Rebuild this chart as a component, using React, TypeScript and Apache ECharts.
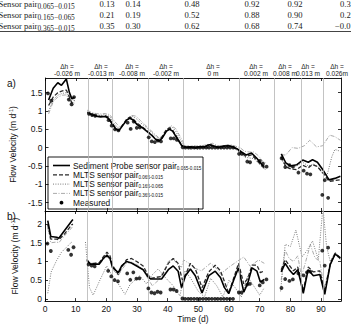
import React, { useEffect, useRef } from 'react';
import * as echarts from 'echarts';

const W = 351;
const H = 324;
const SANS = '"Liberation Sans", Arial, Helvetica, sans-serif';
const SERIF = '"Liberation Serif", "Times New Roman", serif';

// ---------- table excerpt (correlation coefficients) ----------
const tableSubs = ['0.065\u22120.015', '0.165\u22120.065', '0.365\u22120.015'];
const tableRow1 = ['0.13', '0.14', '0.48', '0.92', '0.92', '0.3'];
const tableRow2 = ['0.21', '0.19', '0.52', '0.88', '0.90', '0.2'];
const tableRow3 = ['0.35', '0.30', '0.62', '0.68', '0.74', '\u22120.0'];

// ---------- head-difference periods ----------
const periodBounds = [13.8, 21.9, 33.6, 45.1, 63.3, 74.6, 83.6, 90.7];
const deltaH = ['-0.026 m', '-0.013 m', '-0.008 m', '-0.002 m', '0 m', '0.002 m', '0.008 m', '0.013 m', '0.026m'];

// ---------- axes ----------
const dayTicks = [0, 10, 20, 30, 40, 50, 60, 70, 80, 90];
const velTicks = [-1.5, -1, -0.5, 0, 0.5, 1, 1.5];
const speedTicks = [0, 0.5, 1, 1.5, 2];

// ---------- a) flow velocity (m/d), [day, value] ----------
const spVel1 = [[1, 1.3], [2.5, 1.62], [4, 1.77], [5.2, 1.7], [6.8, 1.87], [7.8, 1.5], [8.6, 1.33], [9.4, 1.38]];
const spVel2 = [[13.7, 0.97], [15, 0.9], [16.5, 0.86], [18, 0.84], [19.5, 0.85], [20.5, 0.8], [21.5, 0.68], [23, 0.5], [24, 0.47], [25, 0.58], [26.5, 0.75], [27.5, 0.8], [28.5, 0.76], [30, 0.62], [31.5, 0.55], [33, 0.45], [34.5, 0.35], [36, 0.22], [37, 0.18], [38, 0.25], [39.5, 0.45], [40.5, 0.5], [41.5, 0.45], [43, 0.25], [44.5, 0.05], [46, 0.01], [47.5, 0.02], [49, 0.0], [50.5, 0.03], [52, 0.02], [53.5, 0.08], [55, 0.04], [56.5, 0.01], [58, 0.04], [59.5, 0.05], [61, 0.03], [62.5, -0.03], [64, -0.12], [65.5, -0.2], [67.3, -0.15], [69, -0.29], [70.7, -0.47], [71.5, -0.52]];
const spVel3 = [[77, -0.17], [78.5, -0.42], [80, -0.5], [82, -0.47], [84, -0.34], [85.8, -0.4], [87.2, -0.33], [88.8, -0.4], [90.7, -0.62], [92.6, -0.88], [94.5, -0.84], [96.3, -0.78]];

const m1Vel1 = [[1, 1.15], [2.5, 1.38], [4, 1.5], [5.5, 1.55], [6.8, 1.57], [7.8, 1.38], [8.6, 1.22], [9.4, 1.3]];
const m1Vel2 = [[13.7, 0.95], [15, 0.9], [16.5, 0.87], [18, 0.85], [19.5, 0.87], [20.5, 0.83], [21.5, 0.7], [23, 0.52], [24, 0.48], [25, 0.6], [26.5, 0.78], [27.5, 0.83], [28.5, 0.79], [30, 0.66], [31.5, 0.57], [33, 0.47], [34.5, 0.36], [36, 0.23], [37, 0.2], [38, 0.29], [39.5, 0.5], [40.5, 0.54], [41.5, 0.48], [43, 0.27], [44.5, 0.06], [46, 0.0], [47.5, 0.03], [49, -0.01], [50.5, 0.02], [52, 0.03], [53.5, 0.1], [55, 0.05], [56.5, 0.0], [58, 0.03], [59.5, 0.06], [61, 0.02], [62.5, -0.05], [64, -0.15], [65.5, -0.24], [67.3, -0.2], [69, -0.34], [70.7, -0.5], [71.5, -0.56]];
const m1Vel3 = [[77, -0.25], [78.5, -0.52], [80, -0.58], [82, -0.6], [84, -0.48], [85.8, -0.55], [87.2, -0.46], [88.8, -0.52], [90.7, -0.7], [92.6, -0.92], [94.5, -0.9], [96.3, -0.88]];

const m2Vel1 = [[1, 1.0], [2.5, 1.3], [4, 1.43], [5.5, 1.48], [6.8, 1.5], [7.8, 1.33], [8.6, 1.18], [9.4, 1.25]];
const m2Vel2 = [[13.7, 1.0], [15, 0.93], [16.5, 0.9], [18, 0.88], [19.5, 0.9], [21, 0.85], [22, 0.7], [23.5, 0.55], [24.5, 0.52], [25.5, 0.65], [27, 0.82], [28.2, 0.86], [29.5, 0.8], [31, 0.68], [32.5, 0.58], [34, 0.47], [35.5, 0.35], [37, 0.24], [38, 0.25], [39, 0.4], [40.5, 0.56], [41.5, 0.55], [42.5, 0.45], [44, 0.22], [45.5, 0.02], [47, -0.04], [48.5, -0.02], [50, -0.04], [51.5, 0.0], [53, 0.0], [54.5, 0.05], [56, 0.0], [57.5, -0.03], [59, 0.0], [60.5, 0.02], [62, -0.04], [63.5, -0.12], [65, -0.26], [66.5, -0.28], [68, -0.3], [69.5, -0.42], [71, -0.56], [72, -0.6]];
const m2Vel3 = [[77, -0.3], [78.5, -0.55], [80, -0.56], [82, -0.5], [84, -0.4], [85.8, -0.5], [87.5, -0.45], [89, -0.52], [90.5, -0.72], [92, -0.74], [93.5, -0.25], [94.5, -0.05], [96.3, -0.1]];

const m3Vel1 = [[1, 0.92], [2.5, 1.25], [4, 1.38], [5.5, 1.43], [6.8, 1.44], [7.8, 1.28], [8.6, 1.14], [9.4, 1.2]];
const m3Vel2 = [[13.7, 1.02], [15, 0.96], [16.5, 0.93], [18, 0.92], [19.5, 0.93], [21, 0.9], [22.5, 0.72], [24, 0.58], [25, 0.58], [26.5, 0.75], [28, 0.88], [29.5, 0.86], [31, 0.74], [32.5, 0.62], [34, 0.5], [35.5, 0.38], [37, 0.27], [38.5, 0.32], [40, 0.52], [41, 0.6], [42.5, 0.52], [44, 0.3], [45.5, 0.06], [47, 0.03], [48.5, 0.05], [50, 0.03], [51.5, 0.06], [53, 0.08], [54.5, 0.12], [56, 0.06], [57.5, 0.04], [59, 0.07], [60.5, 0.08], [62, 0.04], [63.5, 0.0], [65, -0.1], [66.5, -0.12], [68, -0.12], [69.5, -0.22], [71, -0.38], [72, -0.42]];
const m3Vel3 = [[77, -0.2], [78.5, -0.2], [80.5, 0.0], [82.5, -0.02], [84.5, 0.05], [86.3, 0.2], [88.5, 0.02], [90.5, 0.05], [92.8, 0.34], [94.5, 0.3], [96.3, 0.2]];

// measured seepage velocity (signed), [day, value]
const measured = [
  [0.8, 1.48], [1.9, 1.28], [7.6, 1.31], [8.5, 1.18], [9.3, 1.38],
  [14.2, 0.92], [15.2, 0.89], [16.2, 0.87], [20.6, 0.75], [21.6, 0.6], [22.7, 0.5], [23.8, 0.47],
  [26.8, 0.68], [27.8, 0.51], [28.8, 0.71], [29.8, 0.54], [30.8, 0.55],
  [33.7, 0.28], [34.7, 0.17], [35.7, 0.15], [36.7, 0.19], [37.7, 0.17],
  [40.9, 0.25], [41.9, 0.25], [42.9, 0.21], [44.8, 0.01],
  [45.7, 0], [46.7, 0], [47.6, 0], [48.6, 0], [49.6, 0], [50.5, 0], [51.5, 0], [52.5, 0], [53.4, 0],
  [54.4, 0], [55.4, 0], [56.3, 0], [57.3, 0], [58.3, 0], [59.3, 0], [60.3, 0], [61.3, 0],
  [63.2, -0.17], [64.1, -0.17], [65.9, -0.38], [66.8, -0.4], [70, -0.36], [71, -0.44], [72.2, -0.52],
  [77.1, -0.29], [78.3, -0.53], [79.7, -0.48], [80.8, -0.52], [82.6, -0.68], [84.3, -0.63],
  [85.4, -0.71], [86.5, -0.73], [90.4, -1.29], [91.2, -0.89], [92.3, -1.37],
];

// ---------- b) flow speed (m/d), [day, value] ----------
const spSpd1 = [[0.9, 2.09], [1.9, 1.67], [3.8, 1.65], [4.5, 1.62], [6.5, 1.84], [8.7, 2.08], [9.1, 2.12]];
const spSpd2 = [[13.7, 1.04], [14.7, 0.93], [15.7, 0.93], [17.7, 0.93], [19, 1.08], [20.2, 1.17], [21.2, 1.08], [22, 0.84], [23.9, 0.7], [25, 0.88], [26.6, 1.0], [28.2, 0.96], [29.9, 0.88], [32, 0.78], [33.5, 0.6], [34.5, 0.53], [38, 0.53], [40.2, 0.78], [41.8, 0.88], [43.4, 0.74], [44.5, 0.3], [45.8, 0.62], [47.4, 0.8], [49, 0.62], [51.2, 0.16], [53.4, 0.62], [55.5, 0.74], [57.2, 0.57], [58.5, 0.3], [59.9, 0.14], [61.5, 0.5], [63.1, 0.83], [64.8, 0.18], [66.1, 0.42], [67.5, 0.83], [69.1, 0.74], [70.2, 0.45], [71.5, 0.52]];
const spSpd3 = [[77, 0.72], [78.3, 0.95], [79.6, 0.78], [81, 0.65], [82.4, 0.78], [83.4, 0.45], [84.2, 0.15], [85.8, 0.78], [87.5, 0.62], [89.6, 0.65], [91.2, 0.12], [93, 0.92], [94.6, 1.2], [96.3, 1.08]];

const m1Spd1 = [[0.9, 1.98], [1.9, 1.6], [3.8, 1.6], [4.5, 1.58], [6.5, 1.75], [8.7, 1.98], [9.1, 2.0]];
const m1Spd2 = [[13.7, 1.0], [14.7, 0.95], [16, 0.95], [17.7, 0.97], [19, 1.12], [20.2, 1.25], [21.2, 1.15], [22, 0.9], [23.9, 0.65], [25, 0.85], [26.6, 1.05], [28.2, 1.08], [29.9, 1.0], [32, 0.88], [33.5, 0.65], [34.5, 0.55], [38, 0.6], [40.2, 0.95], [41.8, 1.08], [43.4, 0.95], [44.8, 0.5], [46.1, 0.7], [47.4, 0.95], [49, 0.8], [51.2, 0.3], [53.4, 0.72], [55.5, 0.9], [57.2, 0.75], [59.9, 0.15], [61.5, 0.55], [63.1, 0.95], [64.8, 0.4], [66.1, 0.55], [67.5, 0.9], [69.1, 0.9], [70.2, 0.7], [71.5, 0.75]];
const m1Spd3 = [[77, 0.78], [78.3, 1.05], [79.6, 0.9], [81, 0.75], [82.4, 0.85], [83.4, 0.5], [84.2, 0.22], [85.8, 0.85], [87.5, 0.72], [89.6, 0.75], [91.2, 0.2], [93, 0.95], [94.6, 1.22], [96.3, 1.1]];

const m2Spd1 = [[0.9, 0.15], [2, 0.72], [3.8, 1.03], [5.4, 1.25], [7, 1.38], [8.7, 1.52], [9.1, 1.55]];
const m2Spd2 = [[13.2, 1.52], [14.5, 0.3], [15.7, 0.1], [17.9, 0.5], [20.1, 0.88], [21.7, 0.65], [23.9, 0.4], [26.1, 0.12], [27.7, 0.38], [30.9, 0.62], [33.1, 0.4], [34.7, 0.62], [36.9, 0.8], [39.1, 0.58], [41.8, 0.35], [44, 0.08], [45.6, 0.75], [47.5, 0.55], [50, 0.2], [52, 0.05], [54, 0.55], [56, 0.35], [58, 0.05], [60, 0.5], [62, 0.3], [64, 0.05], [66, 0.6], [68, 0.35], [70, 0.1], [71.5, 0.3]];
const m2Spd3 = [[76.8, 0.2], [78.3, 1.46], [80, 1.4], [81.8, 1.84], [83.8, 1.12], [85.5, 1.3], [87.2, 1.55], [89.1, 1.05], [90.6, 2.45], [91.8, 1.4], [93, 1.0], [94.6, 1.25], [96.3, 1.1]];

const m3Spd1 = [[0.9, 1.9], [1.9, 1.5], [3.8, 1.52], [4.5, 1.5], [6.5, 1.7], [8.7, 1.9], [9.1, 1.95]];
const m3Spd2 = [[13.5, 1.05], [14.7, 0.97], [16, 0.92], [17.7, 0.92], [19, 1.05], [20.2, 1.12], [21.2, 1.05], [22.5, 0.75], [23.9, 0.62], [25, 0.78], [26.6, 0.95], [28.2, 0.98], [29.9, 0.92], [32, 0.78], [33.5, 0.55], [35, 0.35], [37, 0.5], [38.5, 0.7], [40.2, 1.0], [41.8, 1.07], [43.4, 0.9], [44.5, 0.85], [45.2, 1.04], [47, 0.95], [48.5, 0.83], [51, 0.75], [53.9, 0.95], [55.5, 0.85], [57.2, 0.66], [60, 0.85], [62.6, 1.0], [64.8, 1.12], [66.9, 0.87], [69.6, 1.04], [71.5, 0.95]];
const m3Spd3 = [[77, 0.5], [78.3, 1.3], [79.6, 1.08], [81, 1.0], [82.4, 1.15], [83.6, 0.6], [85, 1.0], [86.5, 1.45], [88, 1.1], [89.6, 1.0], [91, 0.3], [93, 0.9], [94.6, 1.18], [96.3, 1.05]];

// join record segments, breaking the line between them
const joinSegments = (...parts: number[][][]) =>
  parts.flatMap((p, i) => (i === 0 ? p : [[p[0][0] - 0.5, '-'], ...p])) as any[];

const STYLES = {
  sp: { color: '#000', width: 1.6, type: 'solid' as any },
  m1: { color: '#2a2a2a', width: 1.3, type: [4, 2] as any },
  m2: { color: '#7a7a7a', width: 1, type: [1, 1.4] as any },
  m3: { color: '#ababab', width: 1, type: [4, 1.5, 1, 1.5] as any },
};

function buildOption() {
  const xCommon = (gridIndex: number, position: 'top' | 'bottom', labels: boolean) => ({
    type: 'value', gridIndex, position, min: 0, max: 96.5,
    axisLine: { show: true, onZero: false, lineStyle: { color: '#000', width: 0.9 } },
    axisTick: { show: true, inside: true, length: 3, customValues: dayTicks, lineStyle: { color: '#000', width: 0.8 } },
    axisLabel: { show: labels, customValues: dayTicks, fontSize: 8.5, margin: 3, color: '#111', fontFamily: SANS },
    splitLine: { show: false },
  });
  const yName = '{t|Flow Velocity (m d}{s|-1}{t|)}';
  const yNameStyle = {
    rich: {
      t: { fontSize: 8.5, fontFamily: SANS, color: '#111' },
      s: { fontSize: 5.5, fontFamily: SANS, color: '#111', verticalAlign: 'top' },
    },
  };
  const yCommon = (gridIndex: number, position: 'left' | 'right', min: number, max: number, ticks: number[], labels: boolean) => ({
    type: 'value', gridIndex, position, min, max,
    axisLine: { show: true, onZero: false, lineStyle: { color: '#000', width: 0.9 } },
    axisTick: { show: true, inside: true, length: 3, customValues: ticks, lineStyle: { color: '#000', width: 0.8 } },
    axisLabel: { show: labels, customValues: ticks, fontSize: 8.5, margin: 3, color: '#111', fontFamily: SANS },
    splitLine: { show: false },
    ...(labels ? { name: yName, nameLocation: 'middle', nameGap: 20, nameTextStyle: yNameStyle } : {}),
  });

  const line = (name: string, data: any[], axis: number, st: any, extra: any = {}) => ({
    type: 'line', name, data, xAxisIndex: axis, yAxisIndex: axis,
    symbol: 'none', showSymbol: false, silent: true, clip: true,
    lineStyle: st, ...extra,
  });
  const periodMarks = {
    silent: true, symbol: ['none', 'none'], label: { show: false },
    lineStyle: { color: '#b4b4b4', width: 0.8, type: 'solid' },
    data: periodBounds.map((d) => ({ xAxis: d })),
  };
  const dots = (data: any[], axis: number) => ({
    type: 'scatter', name: 'Measured', data, xAxisIndex: axis, yAxisIndex: axis,
    symbol: 'circle', symbolSize: 3.8, silent: true, itemStyle: { color: '#000' }, z: 5,
  });

  const measuredSpeed = measured.map(([d, v]) => [d, Math.abs(v)]);

  // legend (drawn inside panel a)
  const legendX = 48, legendY = 157, rowH = 9.3, firstRow = 165.5;
  const legendRows = [
    { label: 'Sediment Probe sensor pair', sub: '0.065-0.015', st: STYLES.sp },
    { label: 'MLTS sensor pair', sub: '0.065-0.015', st: STYLES.m1 },
    { label: 'MLTS sensor pair', sub: '0.165-0.065', st: STYLES.m2 },
    { label: 'MLTS sensor pair', sub: '0.365-0.015', st: STYLES.m3 },
  ];
  const legendRich = {
    m: { fontSize: 8.4, fontFamily: SANS, fill: '#111', lineHeight: 10 },
    s: { fontSize: 4.6, fontFamily: SANS, fill: '#111', lineHeight: 10, verticalAlign: 'bottom' },
  };
  const legendChildren: any[] = [
    { type: 'rect', shape: { x: legendX, y: legendY, width: 155, height: 52 }, style: { fill: '#fff', stroke: '#000', lineWidth: 0.9 } },
  ];
  legendRows.forEach((r, i) => {
    const y = firstRow + i * rowH;
    legendChildren.push({
      type: 'line', shape: { x1: 53, y1: y, x2: 70, y2: y },
      style: { stroke: r.st.color, lineWidth: r.st.width, lineDash: Array.isArray(r.st.type) ? r.st.type : null },
    });
    legendChildren.push({
      type: 'text', x: 73, y,
      style: { text: `{m|${r.label}}{s|${r.sub}}`, rich: legendRich, verticalAlign: 'middle', align: 'left' },
    });
  });
  const yMeas = firstRow + 4 * rowH;
  legendChildren.push({ type: 'circle', shape: { cx: 61.5, cy: yMeas, r: 1.9 }, style: { fill: '#000' } });
  legendChildren.push({ type: 'text', x: 73, y: yMeas, style: { text: 'Measured', font: `8.4px ${SANS}`, fill: '#111', verticalAlign: 'middle' } });

  // table excerpt at the top
  const valueX = [107, 133, 192, 252, 295];
  const tableRich = {
    m: { fontSize: 8.6, fontFamily: SERIF, fill: '#222', lineHeight: 11 },
    s: { fontSize: 7.4, fontFamily: SERIF, fill: '#222', lineHeight: 11, verticalAlign: 'bottom' },
  };
  const tableChildren: any[] = [];
  [tableRow1, tableRow2, tableRow3].forEach((row, i) => {
    const y = 4 + i * 11;
    tableChildren.push({ type: 'text', x: -1.5, y, style: { text: `{m|Sensor pair}{s|${tableSubs[i]}}`, rich: tableRich, verticalAlign: 'middle' } });
    row.forEach((v, j) => {
      const isLast = j === row.length - 1;
      tableChildren.push({
        type: 'text', x: isLast ? (v.startsWith('\u2212') ? 335 : 340) : valueX[j], y,
        style: { text: v, font: `8.6px ${SERIF}`, fill: '#222', align: isLast ? 'left' : 'center', verticalAlign: 'middle' },
      });
    });
  });
  tableChildren.push({ type: 'line', shape: { x1: 0, y1: 31.5, x2: W, y2: 31.5 }, style: { stroke: '#444', lineWidth: 1 } });

  const deltaX = [67, 101, 132, 166, 213, 256, 285, 308, 337];
  const deltaChildren = deltaH.map((t, i) => ({
    type: 'text', x: deltaX[i], y: 62.5,
    style: { text: `\u0394h =\n${t}`, font: `6.6px ${SANS}`, lineHeight: 7, fill: '#222', align: 'center', verticalAlign: 'top' },
  }));

  return {
    animation: false,
    backgroundColor: '#fff',
    grid: [
      { left: 45, top: 78, width: 296, height: 133, show: false },
      { left: 45, top: 211, width: 296, height: 96, show: false },
    ],
    xAxis: [
      xCommon(0, 'bottom', false),
      { ...xCommon(0, 'top', false) },
      { ...xCommon(1, 'bottom', true), name: 'Time (d)', nameLocation: 'middle', nameGap: 12, nameTextStyle: { fontSize: 8.5, fontFamily: SANS, color: '#111' } },
      { ...xCommon(1, 'top', false) },
    ],
    yAxis: [
      yCommon(0, 'left', -1.73, 1.9, velTicks, true),
      yCommon(0, 'right', -1.73, 1.9, velTicks, false),
      yCommon(1, 'left', -0.06, 2.35, speedTicks, true),
      yCommon(1, 'right', -0.06, 2.35, speedTicks, false),
    ].map((a, i) => ({ ...a, gridIndex: i < 2 ? 0 : 1 })),
    series: [
      // panel a
      line('MLTS sensor pair 0.365-0.015', joinSegments(m3Vel1, m3Vel2, m3Vel3), 0, STYLES.m3, { markLine: periodMarks }),
      line('MLTS sensor pair 0.165-0.065', joinSegments(m2Vel1, m2Vel2, m2Vel3), 0, STYLES.m2),
      line('MLTS sensor pair 0.065-0.015', joinSegments(m1Vel1, m1Vel2, m1Vel3), 0, STYLES.m1),
      line('Sediment Probe sensor pair 0.065-0.015', joinSegments(spVel1, spVel2, spVel3), 0, STYLES.sp),
      dots(measured, 0),
      // panel b
      { ...line('MLTS sensor pair 0.365-0.015', joinSegments(m3Spd1, m3Spd2, m3Spd3), 2, STYLES.m3, { markLine: periodMarks }), yAxisIndex: 2 },
      { ...line('MLTS sensor pair 0.165-0.065', joinSegments(m2Spd1, m2Spd2, m2Spd3), 2, STYLES.m2), yAxisIndex: 2 },
      { ...line('MLTS sensor pair 0.065-0.015', joinSegments(m1Spd1, m1Spd2, m1Spd3), 2, STYLES.m1), yAxisIndex: 2 },
      { ...line('Sediment Probe sensor pair 0.065-0.015', joinSegments(spSpd1, spSpd2, spSpd3), 2, STYLES.sp), yAxisIndex: 2 },
      { ...dots(measuredSpeed, 2), yAxisIndex: 2 },
    ],
    graphic: [
      { type: 'group', children: tableChildren },
      { type: 'group', children: deltaChildren },
      { type: 'text', x: 7, y: 83, style: { text: 'a)', font: `10px ${SANS}`, fill: '#111', verticalAlign: 'middle' } },
      { type: 'text', x: 7, y: 216, style: { text: 'b)', font: `10px ${SANS}`, fill: '#111', verticalAlign: 'middle' } },
      { type: 'group', z: 100, children: legendChildren },
    ],
  };
}

export default function App() {
  const ref = useRef<HTMLDivElement>(null);
  useEffect(() => {
    document.body.style.margin = '0';
    const chart = echarts.init(ref.current!, null, { renderer: 'svg' });
    chart.setOption(buildOption() as any);
    return () => chart.dispose();
  }, []);
  return <div ref={ref} style={{ width: W, height: H }} />;
}
